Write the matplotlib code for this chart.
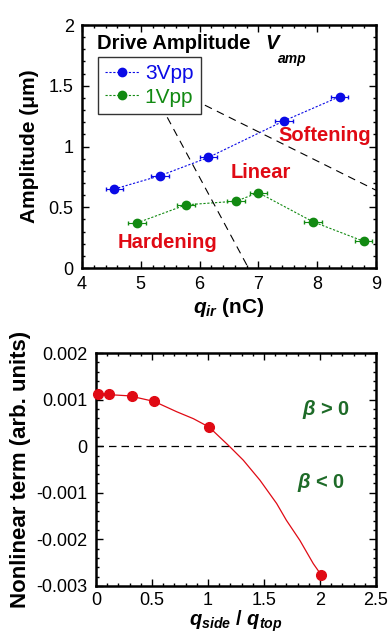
import matplotlib
matplotlib.use("Agg")
import matplotlib.pyplot as plt
from matplotlib.ticker import MultipleLocator, FuncFormatter

plt.rcParams['font.family'] = ['Liberation Sans', 'DejaVu Sans']
plt.rcParams['mathtext.fontset'] = 'custom'
plt.rcParams['mathtext.it'] = 'Liberation Sans:italic:bold'
plt.rcParams['mathtext.rm'] = 'Liberation Sans:bold'
plt.rcParams['mathtext.bf'] = 'Liberation Sans:bold'

# top panel: amplitude vs q_ir
q3 = [4.55, 5.33, 6.15, 7.43, 8.38]
amp3 = [0.65, 0.76, 0.91, 1.21, 1.41]
q1 = [4.93, 5.77, 6.62, 7.00, 7.93, 8.79]
amp1 = [0.37, 0.52, 0.55, 0.62, 0.38, 0.22]
q_err = 0.15

# regime boundary guides (end points)
guide1_x = [5.45, 6.83]
guide1_y = [1.24, 0.0]
guide2_x = [6.09, 9.0]
guide2_y = [1.34, 0.64]

# bottom panel: nonlinear term vs q_side/q_top
ratio = [0.02, 0.12, 0.32, 0.52, 1.01, 2.01]
beta = [0.00112, 0.00112, 0.00108, 0.00096, 0.00041, -0.00276]
fit_x = [0.02, 0.30, 0.52, 0.72, 0.87, 1.01, 1.19, 1.315, 1.464, 1.613, 1.70, 1.82, 1.94, 2.01]
fit_y = [0.00112, 0.00108, 0.00096, 0.00074, 0.00059, 0.00041, 0.0, -0.0003,
         -0.00073, -0.00123, -0.00159, -0.00202, -0.00252, -0.00276]

BLUE = "#0a0ae6"
GREEN = "#128a12"
RED = "#e00a14"
DGREEN = "#1e6b28"

fig = plt.figure(figsize=(3.89, 6.33), dpi=100)
ax1 = fig.add_axes([82/389, 1-268/633, 294/389, 243/633])
ax2 = fig.add_axes([96/389, 1-586/633, 280/389, 233/633])


def style(ax):
    for s in ax.spines.values():
        s.set_linewidth(1.8)
    ax.tick_params(which='both', direction='in', top=True, right=True,
                   labelsize=13, width=1.0, pad=6)
    ax.tick_params(which='major', length=5)
    ax.tick_params(which='minor', length=2.5)


# ---- top ----
ax1.errorbar(q3, amp3, xerr=q_err, fmt='none', ecolor=BLUE, elinewidth=0.8, capsize=1.5)
ax1.errorbar(q1, amp1, xerr=q_err, fmt='none', ecolor=GREEN, elinewidth=0.8, capsize=1.5)
l3, = ax1.plot(q3, amp3, color=BLUE, ls=(0, (2, 1.5)), lw=0.8, marker='o', ms=6, label='3Vpp')
l1, = ax1.plot(q1, amp1, color=GREEN, ls=(0, (2, 1.5)), lw=0.8, marker='o', ms=6, label='1Vpp')
ax1.plot(guide1_x, guide1_y, color='black', ls=(0, (7, 5)), lw=0.8)
ax1.plot(guide2_x, guide2_y, color='black', ls=(0, (7, 5)), lw=0.8)

ax1.set_xlim(4, 9)
ax1.set_ylim(0, 2)
ax1.xaxis.set_major_locator(MultipleLocator(1))
ax1.xaxis.set_minor_locator(MultipleLocator(0.2))
ax1.yaxis.set_major_locator(MultipleLocator(0.5))
ax1.yaxis.set_minor_locator(MultipleLocator(0.1))
ax1.yaxis.set_major_formatter(FuncFormatter(lambda v, p: '%g' % v))
style(ax1)

ax1.set_ylabel('Amplitude (\u03bcm)', fontsize=15, fontweight='bold', labelpad=7)
ax1.set_xlabel(r'$q_{ir}$ (nC)', fontsize=15, fontweight='bold', labelpad=2)

ax1.text(4.25, 1.85, 'Drive Amplitude', fontsize=14.5, fontweight='bold', va='center')
ax1.text(7.11, 1.85, 'V', fontsize=14.5, fontweight='bold', fontstyle='italic', va='center')
ax1.text(7.33, 1.72, 'amp', fontsize=10, fontweight='bold', fontstyle='italic', va='center')

ax1.text(8.13, 1.09, 'Softening', color=RED, fontsize=14.5, fontweight='bold', ha='center', va='center')
ax1.text(7.04, 0.79, 'Linear', color=RED, fontsize=14.5, fontweight='bold', ha='center', va='center')
ax1.text(5.45, 0.21, 'Hardening', color=RED, fontsize=14.5, fontweight='bold', ha='center', va='center')

leg = ax1.legend(handles=[l3, l1], loc='upper left', bbox_to_anchor=(0.054, 0.868),
                 borderaxespad=0, fontsize=15, labelcolor='linecolor', fancybox=False,
                 edgecolor='#333333', framealpha=1, handlelength=1.6, handletextpad=0.3,
                 borderpad=0.35, labelspacing=0.2)
leg.get_frame().set_linewidth(1.0)

# ---- bottom ----
ax2.axhline(0, color='black', ls=(0, (6, 4)), lw=0.9)
ax2.plot(fit_x, fit_y, color=RED, lw=0.9)
ax2.plot(ratio, beta, 'o', color=RED, ms=7, clip_on=False, zorder=5)

ax2.set_xlim(0, 2.5)
ax2.set_ylim(-0.003, 0.002)
ax2.xaxis.set_major_locator(MultipleLocator(0.5))
ax2.xaxis.set_minor_locator(MultipleLocator(0.1))
ax2.yaxis.set_major_locator(MultipleLocator(0.001))
ax2.yaxis.set_minor_locator(MultipleLocator(0.0002))
ax2.xaxis.set_major_formatter(FuncFormatter(lambda v, p: '%g' % v))
ax2.yaxis.set_major_formatter(FuncFormatter(lambda v, p: '%g' % round(v, 4)))
style(ax2)
ax2.tick_params(axis='x', which='both', pad=4)

ax2.set_ylabel('Nonlinear term (arb. units)', fontsize=16, fontweight='bold', labelpad=4)
ax2.set_xlabel(r'$q_{side}$ / $q_{top}$', fontsize=14.5, fontweight='bold', labelpad=0)

ax2.text(2.05, 0.00078, r'$\beta$ > 0', color=DGREEN, fontsize=14.5, fontweight='bold', ha='center', va='center')
ax2.text(2.01, -0.00078, r'$\beta$ < 0', color=DGREEN, fontsize=14.5, fontweight='bold', ha='center', va='center')

fig.savefig('out.png', dpi=100)
